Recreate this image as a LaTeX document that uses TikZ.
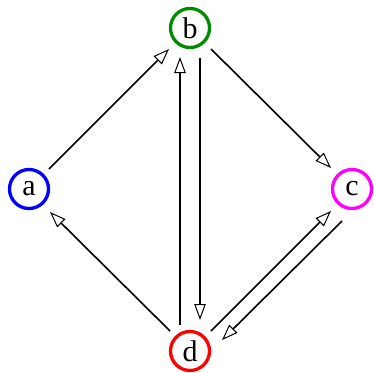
\documentclass[tikz,border=0pt]{standalone}
\usepackage{fontspec}
\setmainfont{Liberation Serif}
\usetikzlibrary{arrows.meta,calc}
\definecolor{vblue}{RGB}{0,0,255}
\definecolor{vgreen}{RGB}{0,140,0}
\definecolor{vmagenta}{RGB}{255,0,255}
\definecolor{vred}{RGB}{255,0,0}
\begin{document}
\begin{tikzpicture}[x=1pt,y=-1pt,
  vertex/.style={circle,draw,line width=3.3pt,minimum size=39pt,inner sep=0pt,
    font=\fontsize{30}{30}\selectfont},
  arr/.style={line width=1.6pt,-{Triangle[open,length=16pt,width=11.5pt,line width=1pt]}}]
\useasboundingbox (0,0) rectangle (374,372);
\node[vertex,draw=vblue] (a) at (29,189) {a};
\node[vertex,draw=vgreen] (b) at (190,28) {b};
\node[vertex,draw=vmagenta] (c) at (352,189) {c};
\node[vertex,draw=vred] (d) at (190,351) {d};
\draw[arr] ($(a)+(20,-20)$) -- ($(b)+(-21,21)$);
\draw[arr] ($(b)+(21,21)$) -- ($(c)+(-21,-21)$);
\draw[arr] ($(d)+(-20,-20)$) -- ($(a)+(21,23)$);
\draw[arr] ($(d)+(-10,-26)$) -- ($(b)+(-10,29)$);
\draw[arr] ($(b)+(10,30)$) -- ($(d)+(10,-31)$);
\draw[arr] ($(d)+(21,-20)$) -- ($(c)+(-21,22)$);
\draw[arr] ($(c)+(-10,32)$) -- ($(d)+(32,-11)$);
\end{tikzpicture}
\end{document}
